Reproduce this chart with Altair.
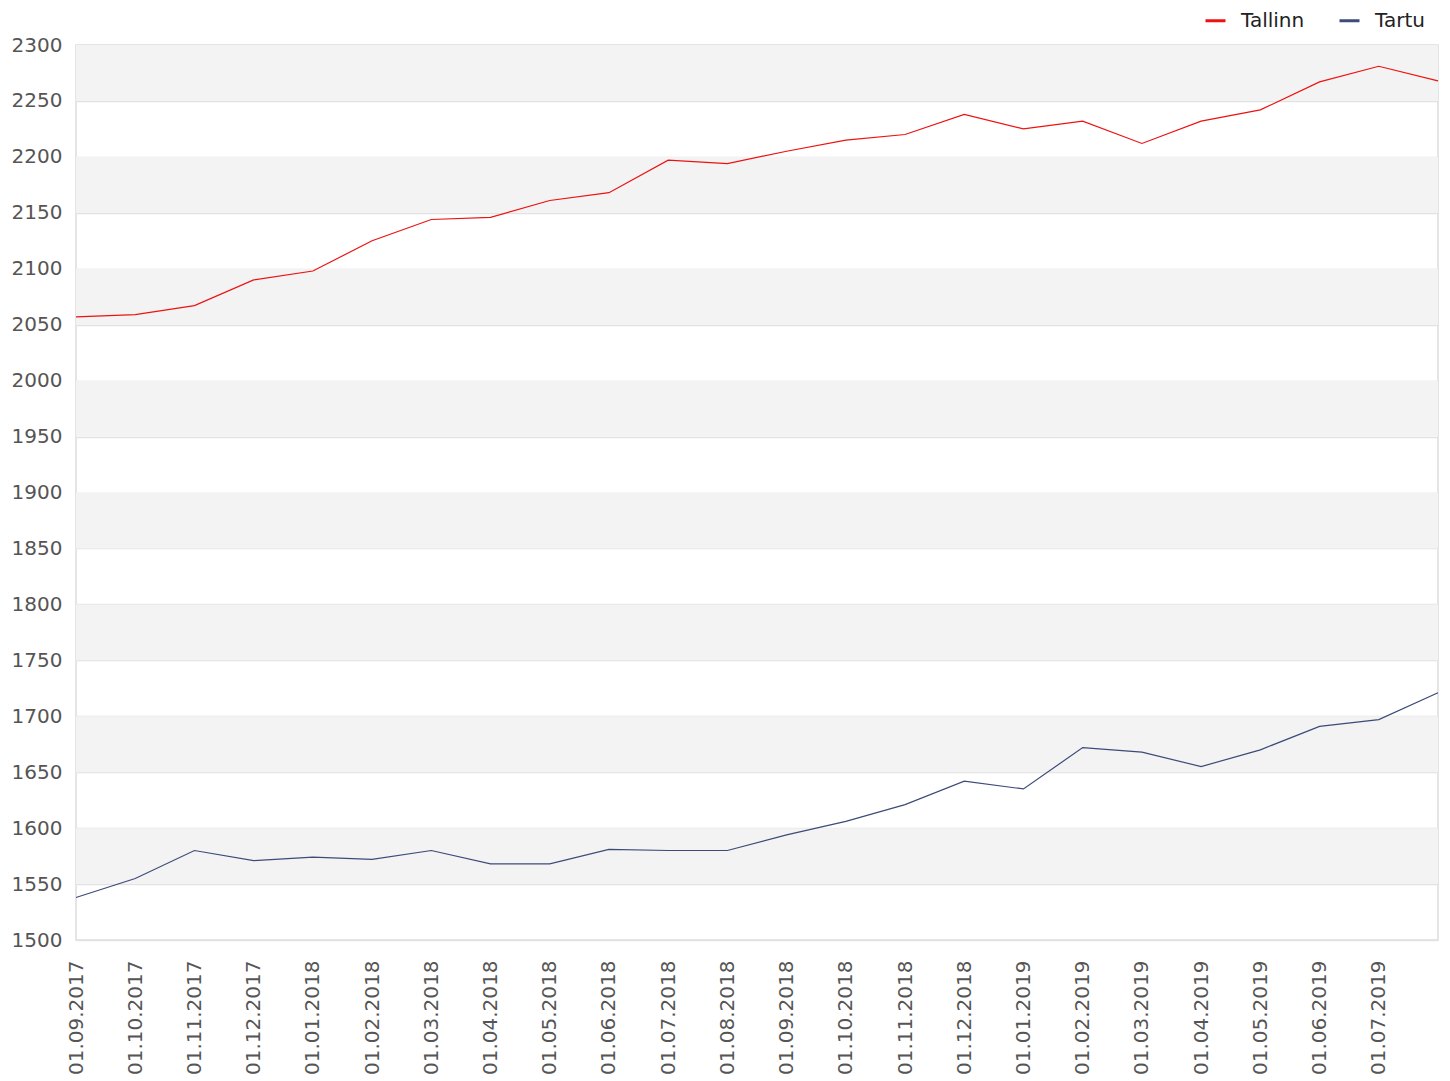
import altair as alt
import pandas as pd

dates = ["01.09.2017", "01.10.2017", "01.11.2017", "01.12.2017", "01.01.2018", "01.02.2018",
         "01.03.2018", "01.04.2018", "01.05.2018", "01.06.2018", "01.07.2018", "01.08.2018",
         "01.09.2018", "01.10.2018", "01.11.2018", "01.12.2018", "01.01.2019", "01.02.2019",
         "01.03.2019", "01.04.2019", "01.05.2019", "01.06.2019", "01.07.2019", "01.08.2019"]
tallinn = [2057, 2059, 2067, 2090, 2098, 2125, 2144, 2146, 2161, 2168, 2197, 2194,
           2205, 2215, 2220, 2238, 2225, 2232, 2212, 2232, 2242, 2267, 2281, 2268]
tartu = [1538, 1555, 1580, 1571, 1574, 1572, 1580, 1568, 1568, 1581, 1580, 1580,
         1594, 1606, 1621, 1642, 1635, 1672, 1668, 1655, 1670, 1691, 1697, 1721]
series = ["Tallinn", "Tartu"]
colors = ["#ee1111", "#3c4b78"]
tick_labels = dates[:-1]
y_ticks = list(range(1500, 2301, 50))
band_lo = [v for v in y_ticks if (v - 1550) % 100 == 0 and v < 2300]

W, H = 1362, 895
FS = 20

df = pd.DataFrame({
    "date": dates * 2,
    "value": tallinn + tartu,
    "city": ["Tallinn"] * len(dates) + ["Tartu"] * len(dates),
    "order": list(range(len(dates))) * 2,
})
bands = pd.DataFrame({"lo": band_lo, "hi": [v + 50 for v in band_lo]})

yscale = alt.Scale(domain=[1500, 2300], nice=False, zero=False)
yaxis = alt.Axis(values=y_ticks, format="d", ticks=False, domain=False, grid=True,
                 gridColor="#e2e2e2", gridWidth=1.5, labelPadding=14, title=None,
                 labelFont="DejaVu Sans", labelFontSize=FS, labelColor="#555555")

band_layer = alt.Chart(bands).mark_rect(color="#f3f3f3").encode(
    x=alt.value(0), x2=alt.value(W),
    y=alt.Y("lo:Q", scale=yscale, axis=yaxis),
    y2="hi:Q",
)

lines = alt.Chart(df).mark_line(strokeWidth=1.2).encode(
    x=alt.X("date:O", sort=dates, scale=alt.Scale(type="point", padding=0, domain=dates),
            axis=alt.Axis(values=tick_labels, labelAngle=-90, labelAlign="right",
                          labelBaseline="middle", labelPadding=20, ticks=False,
                          domain=False, grid=False, title=None,
                          labelFont="DejaVu Sans", labelFontSize=FS, labelColor="#555555")),
    y=alt.Y("value:Q", scale=yscale, axis=yaxis),
    color=alt.Color("city:N", scale=alt.Scale(domain=series, range=colors),
                    legend=alt.Legend(title=None, orient="none", direction="horizontal",
                                      legendX=1128, legendY=-36,
                                      symbolType="stroke", symbolSize=400, symbolStrokeWidth=3,
                                      labelFont="DejaVu Sans", labelFontSize=FS,
                                      labelColor="#222222", labelOffset=14,
                                      columnPadding=28, padding=0)),
    order="order:Q",
)

chart = alt.layer(band_layer, lines).properties(
    width=W, height=H,
    autosize=alt.AutoSizeParams(type="none"),
    padding={"left": 68, "top": 37, "right": 4, "bottom": 141},
).configure_view(stroke="#dddddd", strokeWidth=1.5)

chart.save("out.html", embed_options={"renderer": "svg", "actions": False})
